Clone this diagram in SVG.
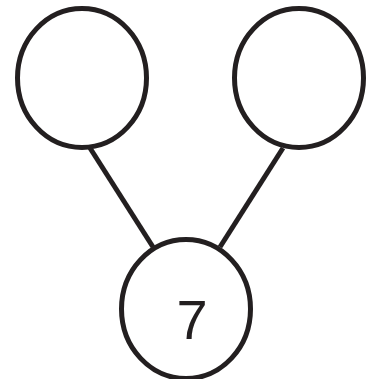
<svg xmlns="http://www.w3.org/2000/svg" width="369" height="379" viewBox="0 0 369 379">
<style>
.node{fill:#fff;stroke:#231f20;stroke-width:5}
.edge{stroke:#231f20;stroke-width:5;fill:none}
.lbl{font-family:"Liberation Sans",Arial,sans-serif;font-size:56px;fill:#231f20;text-anchor:middle}
</style>
<rect width="369" height="379" fill="#fff"/>
<g id="connectors">
<line class="edge" x1="90" y1="148" x2="153" y2="247"/>
<line class="edge" x1="283" y1="148" x2="220" y2="247"/>
</g>
<g id="node-left"><ellipse class="node" cx="82" cy="78" rx="64.5" ry="69.5"/></g>
<g id="node-right"><ellipse class="node" cx="299" cy="78" rx="64.5" ry="69.5"/></g>
<g id="node-bottom"><ellipse class="node" cx="186" cy="309" rx="64.5" ry="69.5"/><text class="lbl" x="192" y="339">7</text></g>
</svg>
